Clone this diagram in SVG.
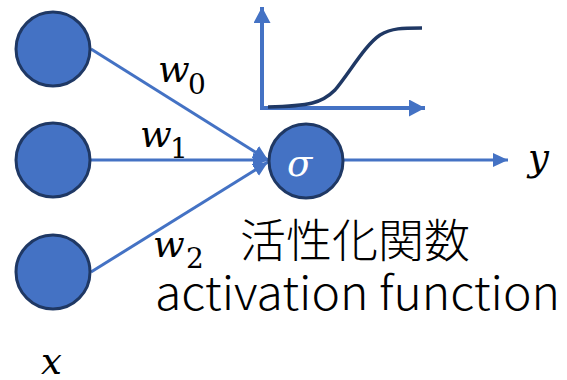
<svg xmlns="http://www.w3.org/2000/svg" width="567" height="380" viewBox="0 0 567 380">
<style>
.node{fill:#4472C4;stroke:#1F3864;stroke-width:3}
.edge{stroke:#4472C4;stroke-width:3;fill:none}
.axis{stroke:#4472C4;stroke-width:4;fill:none}
.math{font-family:"DejaVu Serif","Liberation Serif",serif;font-style:italic;font-size:37px;fill:#000}
.sub{font-family:"DejaVu Serif","Liberation Serif",serif;font-size:28px;fill:#000}
.jp{font-family:"Noto Sans CJK JP","Noto Sans",sans-serif;font-weight:300;font-size:46px;fill:#000}
</style>
<defs>
<marker id="arr" markerUnits="userSpaceOnUse" markerWidth="15" markerHeight="14" refX="15" refY="7" orient="auto">
<path d="M0,0 L15,7 L0,14 z" fill="#4472C4"/>
</marker>
<marker id="arrAx" markerUnits="userSpaceOnUse" markerWidth="16" markerHeight="17" refX="16" refY="8.5" orient="auto">
<path d="M0,0 L16,8.5 L0,17 z" fill="#4472C4"/>
</marker>
</defs>
<g id="connectors">
<line class="edge" x1="91" y1="49" x2="268" y2="160" marker-end="url(#arr)"/>
<line class="edge" x1="91" y1="160" x2="268" y2="160" marker-end="url(#arr)"/>
<line class="edge" x1="91" y1="272" x2="268" y2="162" marker-end="url(#arr)"/>
<line class="edge" x1="344" y1="160" x2="508" y2="160" marker-end="url(#arr)"/>
</g>
<g id="graph">
<polyline class="axis" points="262,7 262,108 425,108" marker-end="url(#arrAx)"/>
<path d="M262,24 L262,7" class="axis" marker-end="url(#arrAx)"/>
<path d="M268,107 C310,106 322,103 335,90 C350,72 365,45 380,35 C392,28 402,28 422,28" fill="none" stroke="#1F3864" stroke-width="3.5"/>
</g>
<g id="input0"><circle class="node" cx="53" cy="49" r="37"/></g>
<g id="input1"><circle class="node" cx="53" cy="160" r="37"/></g>
<g id="input2"><circle class="node" cx="53" cy="272" r="37"/></g>
<g id="neuron"><circle class="node" cx="306" cy="161" r="37"/>
<text class="math" x="287" y="176" style="fill:#fff">σ</text></g>
<g id="labels">
<text class="math" x="158" y="82">w</text><text class="sub" x="188" y="94">0</text>
<text class="math" x="140" y="147">w</text><text class="sub" x="170" y="158">1</text>
<text class="math" x="153" y="257">w</text><text class="sub" x="186" y="268">2</text>
<text class="math" x="41" y="374">x</text>
<text class="math" x="528" y="170">y</text>
<text class="jp" x="240" y="257">活性化関数</text>
<text class="jp" x="155" y="310" textLength="405" lengthAdjust="spacingAndGlyphs">activation function</text>
</g>
</svg>
